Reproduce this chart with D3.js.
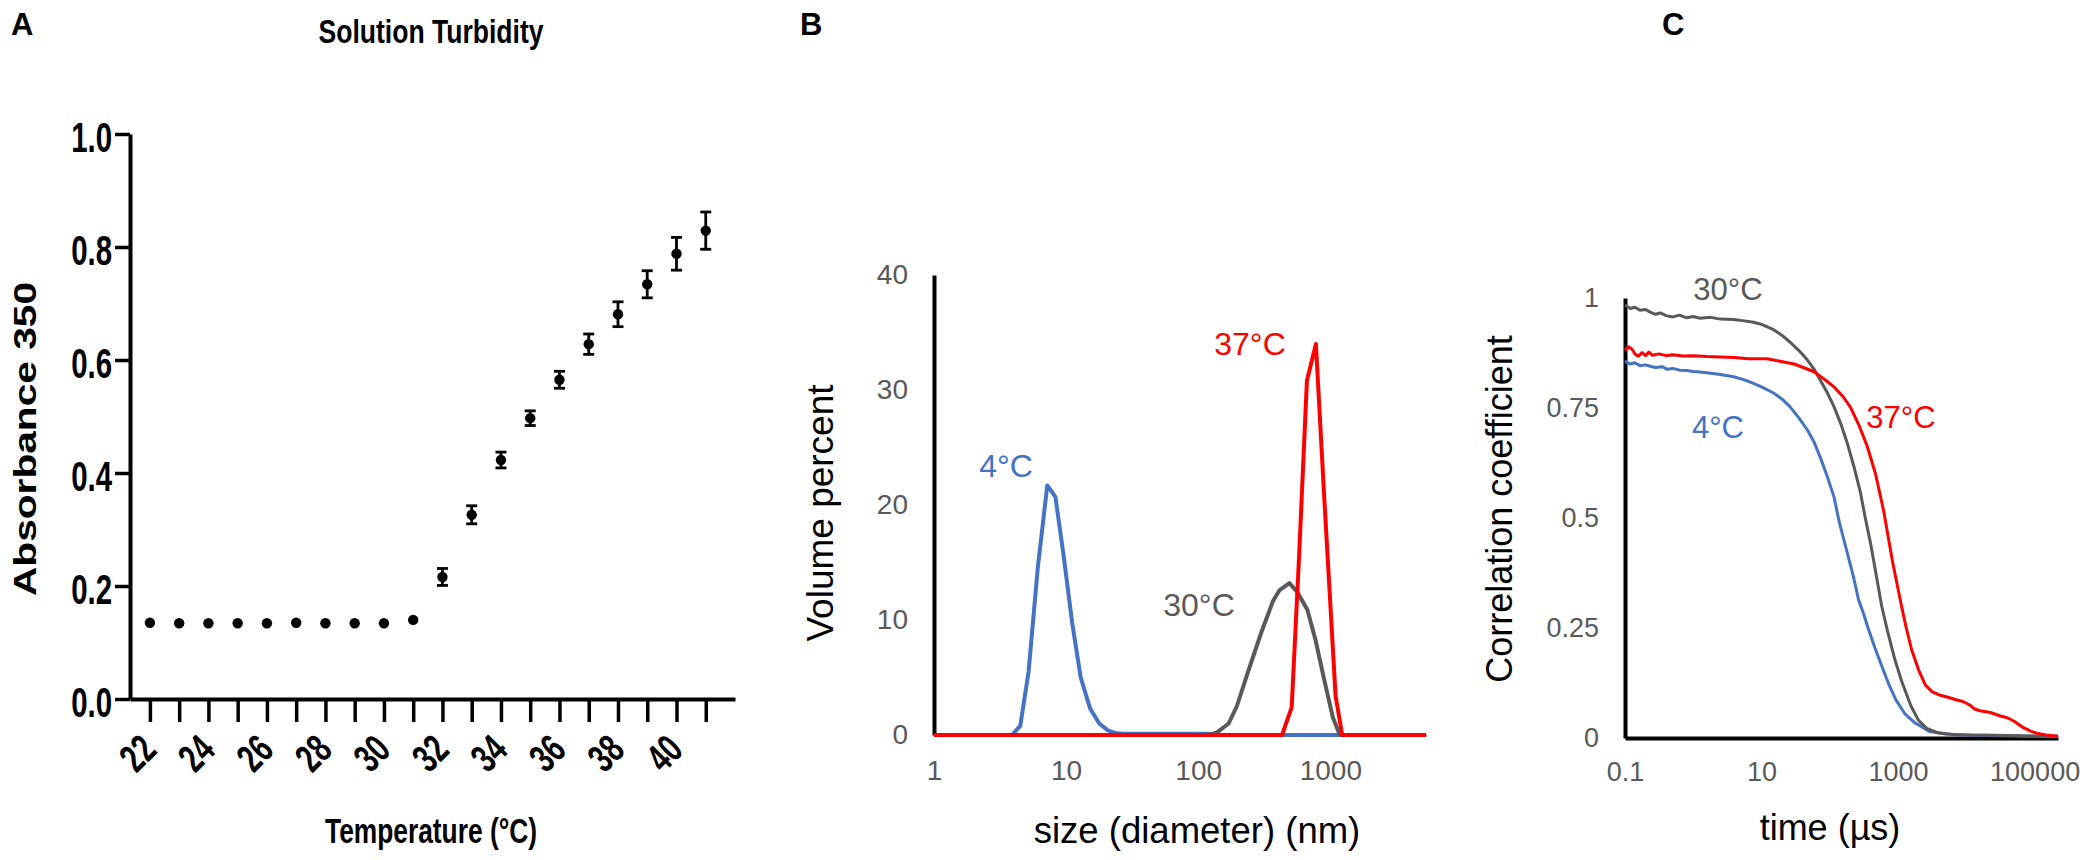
<!DOCTYPE html>
<html><head><meta charset="utf-8">
<script src="https://cdn.jsdelivr.net/npm/d3@7"></script>
<style>
html,body{margin:0;padding:0;background:#fff;}
svg{display:block;}
text{font-family:"Liberation Sans",Arial,Helvetica,sans-serif;}
</style></head>
<body>
<svg id="chart" width="2085" height="860"></svg>
<script>
// ---------- Panel A data ----------
const tempA = [22,23,24,25,26,27,28,29,30,31,32,33,34,35,36,37,38,39,40,41];
const absA  = [0.135,0.134,0.134,0.134,0.134,0.135,0.134,0.134,0.134,0.140,0.216,0.326,0.423,0.497,0.565,0.628,0.681,0.734,0.788,0.829];
const semA  = [0.002,0.002,0.002,0.002,0.002,0.002,0.002,0.002,0.002,0.004,0.015,0.016,0.014,0.013,0.015,0.018,0.022,0.024,0.029,0.033];
const yTicksA = [0.0,0.2,0.4,0.6,0.8,1.0];
const xTicksA = [22,23,24,25,26,27,28,29,30,31,32,33,34,35,36,37,38,39,40,41];

// ---------- Panel B data (size nm, volume %) ----------
const sizeB4  = [1,3.9,4.5,5.2,6.1,7.2,8.3,9.6,11.1,12.9,15.2,17.8,20.7,24,28,120,135,5300];
const volB4   = [0,0,0.8,5.5,14.5,21.7,20.7,15.5,9.8,5.0,2.3,1.0,0.4,0.15,0.1,0.1,0,0];
const sizeB30 = [1,118,138,170,196,240,302,367,413,490,565,670,771,895,1047,1180,5300];
const volB30  = [0,0,0.2,1.0,2.5,5.6,9.0,11.6,12.6,13.2,12.4,10.9,8.3,4.9,1.5,0,0];
const sizeB37 = [1,431,510,580,665,778,896,1096,1230,5300];
const volB37  = [0,0,2.4,15.5,30.8,34,21,3.4,0,0];
const yTicksB = [0,10,20,30,40];
const xTicksB = [1,10,100,1000];

// ---------- Panel C data (time us, correlation) ----------
const timeC30 = [0.1,0.12,0.14,0.166,0.2,0.234,0.28,0.33,0.4,0.5,0.63,0.8,1,1.26,1.8,2.5,3.9,5.6,7.6,10,15,20,26,35,47,59,72,91,115,145,182,229,282,331,398,479,575,708,891,1122,1549,1995,2630,3800,6300,12600,25000,63000,158000,220000];
const corC30  = [0.984,0.976,0.979,0.972,0.974,0.968,0.963,0.966,0.960,0.957,0.961,0.955,0.958,0.954,0.956,0.952,0.951,0.948,0.945,0.940,0.928,0.915,0.900,0.881,0.859,0.838,0.814,0.786,0.753,0.714,0.668,0.613,0.557,0.500,0.440,0.370,0.300,0.240,0.180,0.130,0.072,0.040,0.022,0.012,0.008,0.007,0.006,0.005,0.004,0.004];
const timeC4  = [0.1,0.118,0.14,0.166,0.2,0.234,0.28,0.35,0.42,0.5,0.63,0.8,1,1.26,1.8,2.5,3.9,5.6,7.6,10,15,20,26,35,47,59,72,91,115,138,174,219,263,316,363,457,589,741,933,1259,1778,2884,5000,10000,31600,100000,220000];
const corC4   = [0.857,0.850,0.853,0.846,0.848,0.845,0.842,0.844,0.838,0.840,0.836,0.835,0.833,0.832,0.829,0.826,0.821,0.814,0.806,0.798,0.784,0.770,0.753,0.728,0.700,0.672,0.639,0.596,0.548,0.490,0.430,0.370,0.315,0.280,0.250,0.205,0.160,0.120,0.086,0.055,0.034,0.015,0.009,0.006,0.005,0.004,0.003];
const timeC37 = [0.1,0.112,0.126,0.141,0.158,0.178,0.2,0.224,0.251,0.316,0.398,0.5,0.708,1,1.58,2.5,4,6.3,12,30,58,89,115,158,200,269,355,468,617,832,1122,1318,1585,1995,2512,3162,4169,5495,7079,8913,11220,13183,15849,22387,31623,39811,50119,67608,89125,112202,158489,220000];
const corC37  = [0.881,0.889,0.884,0.872,0.868,0.876,0.869,0.877,0.870,0.873,0.869,0.871,0.868,0.869,0.867,0.866,0.865,0.862,0.862,0.850,0.833,0.812,0.798,0.775,0.752,0.710,0.662,0.600,0.515,0.400,0.300,0.250,0.200,0.155,0.120,0.105,0.097,0.092,0.087,0.083,0.075,0.066,0.062,0.058,0.050,0.046,0.038,0.024,0.015,0.010,0.006,0.004];
const yTicksC = [0,0.25,0.5,0.75,1];
const xTicksC = [0.1,10,1000,100000];

const BLUE = "#4472C4", GRAY = "#595959", RED = "#FF0000";
const svg = d3.select("#chart");
svg.append("rect").attr("width",2085).attr("height",860).attr("fill","#fff");

function condense(sel, f){
  sel.each(function(){
    const w = this.getComputedTextLength();
    d3.select(this).attr("textLength", w*f).attr("lengthAdjust","spacingAndGlyphs");
  });
}

// ================= Panel A =================
const xA = d3.scaleLinear().domain([21.32, 42]).range([130, 735]);
const yA = d3.scaleLinear().domain([0, 1]).range([699, 134]);

const gA = svg.append("g");
const yAxA = gA.append("g").attr("transform","translate(130,0)")
  .call(d3.axisLeft(yA).tickValues(yTicksA).tickFormat(d3.format(".1f")).tickSize(15).tickSizeOuter(0).tickPadding(3));
yAxA.select(".domain").attr("stroke","#000").attr("stroke-width",4);
yAxA.selectAll(".tick line").attr("stroke","#000").attr("stroke-width",3.5);
yAxA.selectAll(".tick text").attr("font-size",42).attr("font-weight","bold").attr("fill","#000").attr("dy","0.42em");
condense(yAxA.selectAll(".tick text"), 0.7);

const xAxA = gA.append("g").attr("transform","translate(0,699)")
  .call(d3.axisBottom(xA).tickValues(xTicksA).tickSize(23).tickSizeOuter(0).tickFormat(d => d % 2 === 0 ? d : ""));
xAxA.select(".domain").attr("stroke","#000").attr("stroke-width",4);
xAxA.selectAll(".tick line").attr("stroke","#000").attr("stroke-width",3.5);
xAxA.selectAll(".tick text")
  .attr("font-size",40).attr("font-weight","bold").attr("fill","#000")
  .attr("text-anchor","end").attr("y",0).attr("dy",0)
  .attr("transform","translate(8,53) rotate(-45)");
condense(xAxA.selectAll(".tick text"), 0.7);

// error bars
const ptsA = tempA.map((t,i)=>({t, v:absA[i], e:semA[i]}));
const eb = gA.append("g").attr("stroke","#000").attr("stroke-width",2.8).attr("fill","none");
ptsA.filter(d=>d.e>0.006).forEach(d=>{
  const x = xA(d.t), y1 = yA(d.v+d.e), y2 = yA(d.v-d.e);
  eb.append("line").attr("x1",x).attr("x2",x).attr("y1",y1).attr("y2",y2);
  eb.append("line").attr("x1",x-5.5).attr("x2",x+5.5).attr("y1",y1).attr("y2",y1);
  eb.append("line").attr("x1",x-5.5).attr("x2",x+5.5).attr("y1",y2).attr("y2",y2);
});
gA.append("g").selectAll("circle").data(ptsA).join("circle")
  .attr("cx",d=>xA(d.t)).attr("cy",d=>yA(d.v)).attr("r",5.2).attr("fill","#000");

const tA = gA.append("text").attr("x",431).attr("y",43).attr("text-anchor","middle")
  .attr("font-size",34).attr("font-weight","bold").text("Solution Turbidity");
tA.attr("textLength",225).attr("lengthAdjust","spacingAndGlyphs");
const xlA = gA.append("text").attr("x",431).attr("y",843).attr("text-anchor","middle")
  .attr("font-size",35).attr("font-weight","bold").text("Temperature (°C)");
xlA.attr("textLength",212).attr("lengthAdjust","spacingAndGlyphs");
gA.append("text").attr("transform","translate(36,439) rotate(-90)").attr("text-anchor","middle")
  .attr("font-size",31).attr("font-weight","bold").attr("textLength",314).attr("lengthAdjust","spacingAndGlyphs")
  .text("Absorbance 350");

// ================= Panel B =================
const xB = d3.scaleLog().domain([1, 5300]).range([934, 1426]);
const yB = d3.scaleLinear().domain([0, 40]).range([735, 275]);
const gB = svg.append("g");
const yAxB = gB.append("g").attr("transform","translate(934,0)")
  .call(d3.axisLeft(yB).tickValues(yTicksB).tickSize(0).tickPadding(26).tickFormat(d3.format("d")));
yAxB.select(".domain").attr("stroke","#000").attr("stroke-width",4);
yAxB.selectAll(".tick text").attr("font-size",28).attr("fill",GRAY);
const xAxB = gB.append("g").attr("transform","translate(0,735)")
  .call(d3.axisBottom(xB).tickValues(xTicksB).tickSize(0).tickPadding(25).tickFormat(d3.format("d")));
xAxB.select(".domain").attr("stroke","#000").attr("stroke-width",2);
xAxB.selectAll(".tick text").attr("font-size",28).attr("fill",GRAY);

const lineB = d3.line().x(d=>xB(d[0])).y(d=>yB(d[1]));
[[sizeB4,volB4,BLUE],[sizeB30,volB30,GRAY],[sizeB37,volB37,RED]].forEach(([s,v,c])=>{
  gB.append("path").datum(s.map((x,i)=>[x,v[i]])).attr("d",lineB)
    .attr("fill","none").attr("stroke",c).attr("stroke-width",4).attr("stroke-linejoin","round");
});
gB.append("text").attr("x",1006).attr("y",477).attr("text-anchor","middle").attr("font-size",32).attr("fill",BLUE).text("4°C");
gB.append("text").attr("x",1199).attr("y",616).attr("text-anchor","middle").attr("font-size",32).attr("fill",GRAY).text("30°C");
gB.append("text").attr("x",1250).attr("y",355).attr("text-anchor","middle").attr("font-size",32).attr("fill",RED).text("37°C");
gB.append("text").attr("transform","translate(833,513) rotate(-90)").attr("text-anchor","middle")
  .attr("font-size",37).attr("fill","#000").text("Volume percent");
gB.append("text").attr("x",1197).attr("y",843).attr("text-anchor","middle").attr("font-size",36.5).attr("fill","#000").text("size (diameter) (nm)");

// ================= Panel C =================
const xC = d3.scaleLog().domain([0.1, 220000]).range([1625, 2058]);
const yC = d3.scaleLinear().domain([0, 1]).range([738, 298]);
const gC = svg.append("g");
const yAxC = gC.append("g").attr("transform","translate(1625,0)")
  .call(d3.axisLeft(yC).tickValues(yTicksC).tickSize(0).tickPadding(26).tickFormat(d=>String(d)));
yAxC.select(".domain").attr("stroke","#000").attr("stroke-width",4);
yAxC.selectAll(".tick text").attr("font-size",27).attr("fill",GRAY);
const xAxC = gC.append("g").attr("transform","translate(0,738)")
  .call(d3.axisBottom(xC).tickValues(xTicksC).tickSize(0).tickPadding(24).tickFormat(d=>String(d)));
xAxC.select(".domain").attr("stroke","#000").attr("stroke-width",4);
xAxC.selectAll(".tick text").attr("font-size",27).attr("fill",GRAY);

const lineC = d3.line().x(d=>xC(d[0])).y(d=>yC(d[1]));
[[timeC4,corC4,BLUE],[timeC30,corC30,GRAY],[timeC37,corC37,RED]].forEach(([s,v,c])=>{
  gC.append("path").datum(s.map((x,i)=>[x,v[i]])).attr("d",lineC)
    .attr("fill","none").attr("stroke",c).attr("stroke-width",3).attr("stroke-linejoin","round");
});
gC.append("text").attr("x",1728).attr("y",300).attr("text-anchor","middle").attr("font-size",31).attr("fill",GRAY).text("30°C");
gC.append("text").attr("x",1718).attr("y",438).attr("text-anchor","middle").attr("font-size",31).attr("fill",BLUE).text("4°C");
gC.append("text").attr("x",1901).attr("y",428).attr("text-anchor","middle").attr("font-size",31).attr("fill",RED).text("37°C");
gC.append("text").attr("transform","translate(1512,509) rotate(-90)").attr("text-anchor","middle")
  .attr("font-size",36).attr("fill","#000").text("Correlation coefficient");
gC.append("text").attr("x",1830).attr("y",840).attr("text-anchor","middle").attr("font-size",36).attr("fill","#000").text("time (µs)");

// panel letters
[["A",11],["B",800],["C",1662]].forEach(([t,x])=>{
  svg.append("text").attr("x",x).attr("y",35).attr("font-size",31).attr("font-weight","bold").attr("fill","#000").text(t);
});
</script>
</body></html>
